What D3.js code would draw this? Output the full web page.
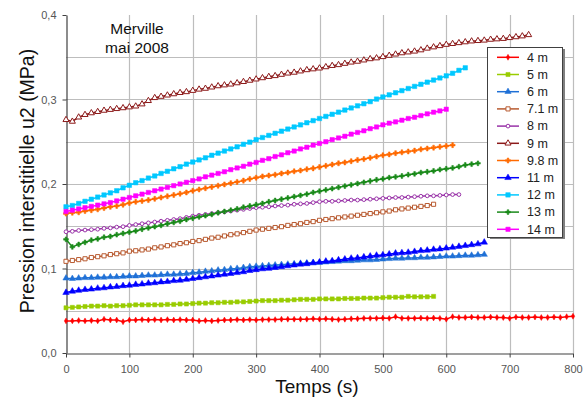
<!DOCTYPE html>
<html><head><meta charset="utf-8">
<script src="https://cdn.jsdelivr.net/npm/d3@7"></script>
<style>
body{margin:0;background:#fff;}
svg{display:block;font-family:"Liberation Sans",Arial,sans-serif;}
</style></head>
<body><svg id="chart" width="588" height="401"></svg>
<script>
// ---- DATA (pressure in MPa, one reading every 10 s starting at t = 0) ----
const stepSeconds = 10;
const seriesNames = ["4 m","5 m","6 m","7.1 m","8 m","9 m","9.8 m","11 m","12 m","13 m","14 m"];
const xTicks = [0,100,200,300,400,500,600,700,800];
const yTicks = [0,0.1,0.2,0.3,0.4];
const yTickLabels = ["0,0","0,1","0,2","0,3","0,4"];
const titleLines = ["Merville","mai 2008"];

const u4m = [.038,.038,.0385,.038,.0385,.038,.040,.039,.039,.037,.039,.039,.0395,.039,.0395,.039,.0395,.039,.0395,.039,.039,.038,.0385,.038,.0385,.039,.039,.0395,.039,.0395,.039,.0395,.0395,.0395,.040,.040,.040,.040,.040,.0405,.040,.0405,.040,.0395,.040,.0405,.0405,.041,.041,.041,.0415,.041,.043,.041,.041,.041,.0415,.041,.0415,.041,.040,.043,.042,.042,.0425,.042,.042,.0425,.042,.042,.041,.0425,.042,.042,.0425,.042,.042,.0425,.042,.043,.0435];
const u5m = [.0535,.054,.0545,.055,.0555,.0555,.056,.0555,.056,.056,.0565,.057,.057,.057,.057,.057,.0575,.0575,.058,.058,.0585,.059,.059,.0595,.0595,.060,.060,.0605,.0605,.061,.0615,.062,.062,.062,.0625,.0625,.063,.0635,.0635,.0635,.064,.064,.064,.064,.0645,.0645,.0645,.065,.065,.065,.0655,.066,.066,.066,.067,.0665,.0665,.0665,.067];
const u6m = [.0885,.088,.0885,.089,.089,.0895,.0895,.090,.090,.0905,.091,.091,.0915,.092,.092,.0925,.093,.093,.0935,.094,.095,.0955,.0965,.097,.098,.0985,.0995,.100,.101,.102,.1025,.103,.1035,.104,.1045,.105,.1055,.106,.1065,.107,.107,.1075,.108,.1085,.109,.109,.1095,.110,.110,.1105,.111,.1115,.112,.112,.1125,.1125,.113,.113,.1135,.114,.1145,.1145,.115,.1155,.1155,.116,.1165];
const u71m = [.1085,.1095,.1105,.1115,.113,.114,.115,.1165,.1175,.1185,.1205,.121,.122,.123,.1245,.1255,.127,.128,.1295,.1305,.132,.133,.1345,.136,.137,.1385,.140,.141,.1425,.144,.1455,.1465,.1475,.1485,.1495,.151,.152,.153,.1545,.1555,.157,.158,.159,.160,.161,.162,.163,.164,.165,.166,.167,.168,.1695,.1705,.1715,.1725,.1735,.1745,.176];
const u8m = [.1435,.144,.145,.1455,.146,.1465,.1475,.148,.149,.1495,.151,.152,.153,.154,.155,.156,.157,.158,.159,.1605,.162,.163,.164,.165,.166,.167,.168,.169,.170,.171,.172,.1725,.173,.174,.1745,.175,.176,.1765,.177,.178,.179,.1795,.1795,.180,.1805,.181,.181,.1815,.182,.1825,.183,.1835,.184,.184,.1845,.185,.1855,.186,.186,.1865,.187,.1875,.1875];
const u9m = [.276,.274,.279,.282,.284,.2855,.287,.288,.289,.290,.291,.292,.2945,.2985,.302,.3035,.305,.3065,.308,.309,.3105,.312,.313,.3145,.316,.317,.318,.3195,.321,.3225,.324,.3255,.327,.328,.3295,.331,.332,.3335,.335,.336,.337,.3385,.340,.341,.3425,.344,.345,.3465,.348,.349,.3505,.352,.3535,.355,.356,.357,.3585,.3605,.362,.3635,.365,.366,.367,.368,.369,.3695,.370,.371,.3715,.372,.373,.374,.375,.3765];
const u98m = [.165,.166,.1665,.168,.169,.170,.1715,.173,.174,.1755,.1775,.179,.180,.181,.1825,.184,.1855,.187,.1885,.190,.192,.1935,.195,.1965,.198,.1995,.201,.2025,.204,.206,.2075,.209,.210,.211,.2125,.2135,.215,.216,.2175,.2185,.220,.2215,.223,.2245,.2255,.227,.2285,.2295,.231,.2325,.234,.235,.2365,.2375,.2385,.2395,.241,.242,.243,.244,.245,.246];
const u11m = [.0715,.073,.074,.075,.0755,.0765,.077,.078,.0785,.0795,.080,.081,.0815,.0825,.083,.084,.0845,.0855,.086,.087,.088,.089,.090,.091,.092,.093,.094,.095,.096,.0975,.0985,.0995,.100,.101,.102,.103,.104,.105,.1055,.1065,.1075,.1085,.109,.110,.111,.112,.1125,.1135,.1145,.1155,.116,.117,.118,.1185,.119,.120,.121,.1215,.1225,.123,.124,.125,.126,.127,.128,.129,.131];
const u12m = [.173,.1745,.177,.1795,.182,.1845,.187,.1895,.192,.1955,.1985,.2015,.204,.207,.2095,.2125,.215,.218,.2205,.2235,.226,.2285,.231,.234,.2365,.239,.2415,.244,.247,.2495,.2525,.255,.2575,.260,.2625,.265,.2675,.270,.2725,.275,.2775,.280,.2825,.285,.2875,.290,.2925,.295,.2975,.3005,.303,.3055,.308,.3105,.313,.3155,.318,.3205,.323,.3255,.328,.331,.3345,.3375];
const u13m = [.1345,.1255,.1285,.131,.1335,.135,.137,.138,.140,.1415,.143,.1445,.1465,.148,.1495,.151,.153,.1545,.156,.158,.1595,.161,.1625,.164,.166,.1675,.169,.1705,.1725,.174,.1755,.177,.179,.1805,.182,.1835,.185,.1865,.188,.190,.1915,.193,.1945,.196,.1975,.199,.2005,.202,.2035,.205,.206,.2075,.2085,.2095,.211,.212,.2135,.2145,.2155,.217,.218,.219,.2205,.2225,.2235,.2245];
const u14m = [.1675,.169,.1705,.172,.1735,.175,.1765,.178,.180,.182,.184,.186,.188,.190,.192,.194,.196,.198,.200,.202,.204,.206,.2085,.2105,.2125,.2145,.217,.219,.221,.2235,.2255,.228,.230,.2325,.2345,.237,.239,.2415,.2435,.246,.248,.250,.2525,.2545,.2565,.259,.261,.263,.2655,.2675,.270,.272,.2735,.2755,.2775,.279,.281,.283,.285,.2865,.2885];

const seriesValues = [u4m,u5m,u6m,u71m,u8m,u9m,u98m,u11m,u12m,u13m,u14m];

// ---- STYLES ----
const styles = [
  {color:"#ff0000", sym:d3.symbolDiamond, size:10, open:false},
  {color:"#99cc00", sym:d3.symbolSquare, size:17, open:false},
  {color:"#1f70d6", sym:d3.symbolTriangle, size:17, open:false},
  {color:"#b85a30", sym:d3.symbolSquare, size:17, open:true},
  {color:"#9933a8", sym:d3.symbolCircle, size:11, open:true},
  {color:"#8c1a1a", sym:d3.symbolTriangle, size:16, open:true},
  {color:"#ff6a00", sym:d3.symbolCross, size:14, open:false},
  {color:"#0000ff", sym:d3.symbolTriangle, size:18, open:false},
  {color:"#00c8ff", sym:d3.symbolSquare, size:20, open:false},
  {color:"#1a8a1a", sym:d3.symbolCross, size:13, open:false},
  {color:"#ff00ff", sym:d3.symbolSquare, size:19, open:false}
];

const svg = d3.select("#chart");
const x = d3.scaleLinear().domain([0,800]).range([66,573]);
const y = d3.scaleLinear().domain([0,0.4]).range([353,15]);

// gridlines
const grid = svg.append("g");
grid.selectAll("line.h").data(d3.range(1,8).map(i=>i*0.05)).join("line")
  .attr("x1",x(0)).attr("x2",x(800)).attr("y1",d=>Math.round(y(d))+0.5).attr("y2",d=>Math.round(y(d))+0.5)
  .attr("stroke","#bdbdbd").attr("stroke-width",1.2);
grid.selectAll("line.v").data(xTicks.slice(1)).join("line")
  .attr("x1",d=>Math.round(x(d))+0.5).attr("x2",d=>Math.round(x(d))+0.5).attr("y1",y(0.4)).attr("y2",y(0))
  .attr("stroke","#bdbdbd").attr("stroke-width",1.2);

// axes
const xAxis = d3.axisBottom(x).tickValues(xTicks).tickSize(4).tickSizeOuter(0).tickFormat(d3.format("d"));
const gx = svg.append("g").attr("transform","translate(0,353.5)").call(xAxis);
const yAxis = d3.axisLeft(y).tickValues(yTicks).tickSize(4).tickSizeOuter(0).tickFormat((d,i)=>yTickLabels[i]);
const gy = svg.append("g").attr("transform","translate(66.5,0)").call(yAxis);
[gx,gy].forEach(g=>{
  g.select(".domain").attr("stroke","#404040").attr("stroke-width",1.2);
  g.selectAll(".tick line").attr("stroke","#404040");
  g.selectAll(".tick text").attr("fill","#555").attr("font-size",11).attr("font-family","Liberation Sans, Arial, sans-serif");
});
gx.selectAll(".tick text").attr("dy","1.1em");
gy.selectAll(".tick text").attr("dx","-3px");

// series
const line = d3.line().x((d,i)=>x(i*stepSeconds)).y(d=>y(d));
seriesValues.forEach((vals,k)=>{
  const st = styles[k];
  const g = svg.append("g");
  g.append("path").attr("d",line(vals)).attr("fill","none").attr("stroke",st.color).attr("stroke-width",1.5);
  const sym = d3.symbol().type(st.sym).size(st.size);
  g.selectAll("path.m").data(vals).join("path").attr("class","m")
    .attr("d",sym)
    .attr("transform",(d,i)=>`translate(${x(i*stepSeconds)},${y(d)})`)
    .attr("fill",st.open?"#fff":st.color)
    .attr("stroke",st.color).attr("stroke-width",st.open?1:0.5);
});

// title annotation
svg.append("text").attr("x",137).attr("y",34).attr("text-anchor","middle").attr("font-size",15.5).attr("fill","#111").text(titleLines[0]);
svg.append("text").attr("x",137).attr("y",52.5).attr("text-anchor","middle").attr("font-size",15.5).attr("fill","#111").text(titleLines[1]);

// axis titles
svg.append("text").attr("x",317).attr("y",393).attr("text-anchor","middle").attr("font-size",19).attr("fill","#111").text("Temps (s)");
svg.append("text").attr("transform","translate(34,181) rotate(-90)").attr("text-anchor","middle").attr("font-size",19.5).attr("fill","#111").text("Pression interstitielle u2 (MPa)");

// legend
const lg = svg.append("g");
lg.append("rect").attr("x",490).attr("y",49).attr("width",75).attr("height",190).attr("fill","#808080");
lg.append("rect").attr("x",487.5).attr("y",47.5).attr("width",75).attr("height",190).attr("fill","#fff").attr("stroke","#404040").attr("stroke-width",1);
seriesNames.forEach((name,k)=>{
  const st = styles[k];
  const yy = 57.3 + k*17.2;
  lg.append("line").attr("x1",497).attr("x2",519).attr("y1",yy).attr("y2",yy).attr("stroke",st.color).attr("stroke-width",1.5);
  lg.append("path").attr("d",d3.symbol().type(st.sym).size(st.size)())
    .attr("transform",`translate(508,${yy})`)
    .attr("fill",st.open?"#fff":st.color).attr("stroke",st.color).attr("stroke-width",st.open?1:0.5);
  lg.append("text").attr("x",527).attr("y",yy+4.3).attr("font-size",12.5).attr("fill","#222").text(name);
});
</script></body></html>
